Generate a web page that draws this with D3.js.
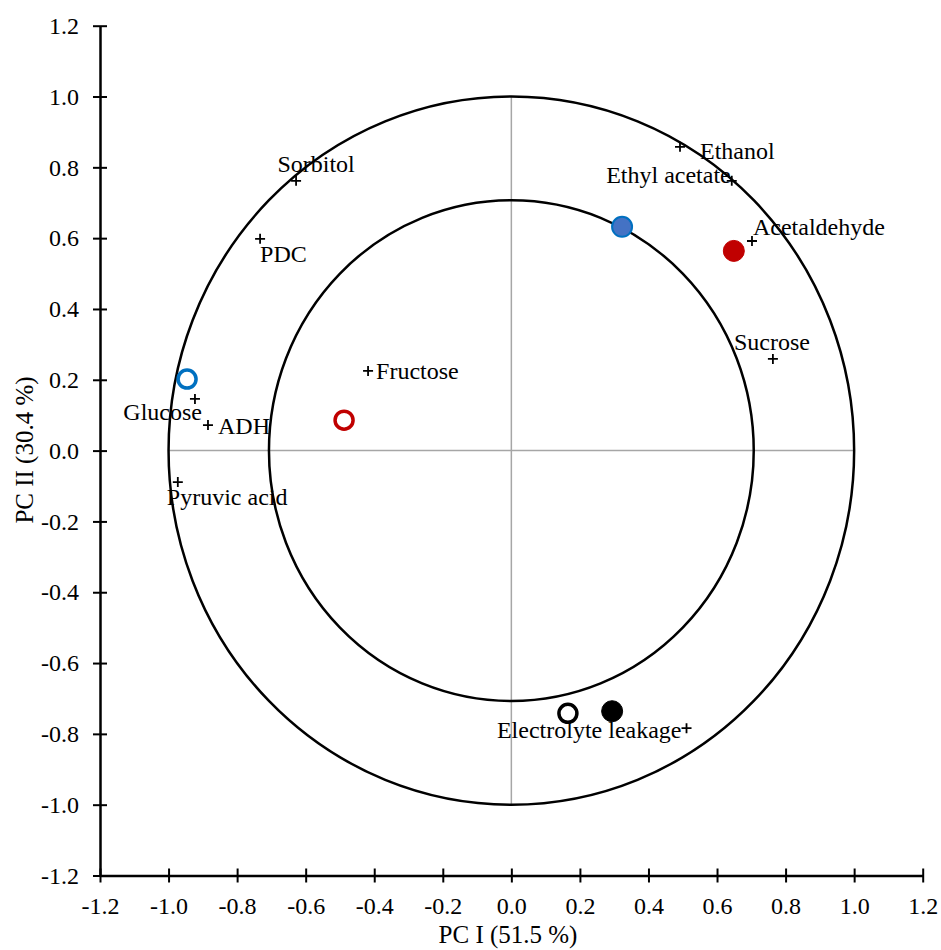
<!DOCTYPE html>
<html>
<head>
<meta charset="utf-8">
<script src="https://cdn.jsdelivr.net/npm/d3@7"></script>
<style>
  html, body { margin: 0; padding: 0; background: #fff; }
  svg text { font-family: "Liberation Serif", "Times New Roman", serif; fill: #000; }
</style>
</head>
<body>
<svg id="chart" width="941" height="950"></svg>
<script>
// ---- data ----
const loadingNames = ["Ethanol", "Ethyl acetate", "Acetaldehyde", "Sucrose", "Sorbitol", "PDC",
  "Fructose", "Glucose", "ADH", "Pyruvic acid", "Electrolyte leakage"];
const loadingPC1 = [0.492, 0.643, 0.702, 0.763, -0.628, -0.733, -0.418, -0.923, -0.885, -0.973, 0.511];
const loadingPC2 = [0.858, 0.762, 0.592, 0.259, 0.762, 0.598, 0.225, 0.146, 0.072, -0.089, -0.784];

const scoreGroups = ["blueFilled", "redFilled", "blueOpen", "redOpen", "blackOpen", "blackFilled"];
const scorePC1 = [0.323, 0.649, -0.946, -0.488, 0.165, 0.294];
const scorePC2 = [0.632, 0.564, 0.202, 0.086, -0.742, -0.736];

const tickValues = [-1.2, -1.0, -0.8, -0.6, -0.4, -0.2, 0.0, 0.2, 0.4, 0.6, 0.8, 1.0, 1.2];
const circleRadii = [1.0, Math.SQRT1_2];
const xTitle = "PC I (51.5 %)";
const yTitle = "PC II (30.4 %)";

// ---- styles / layout ----
const scoreStyle = {
  blueFilled:  { fill: "#4472C4", stroke: "#0070C0", sw: 2,   r: 10 },
  redFilled:   { fill: "#C00000", stroke: "#C00000", sw: 1,   r: 10.5 },
  blueOpen:    { fill: "#fff",    stroke: "#0070C0", sw: 3.5, r: 9 },
  redOpen:     { fill: "#fff",    stroke: "#C00000", sw: 3.5, r: 9 },
  blackOpen:   { fill: "#fff",    stroke: "#000",    sw: 3.5, r: 9 },
  blackFilled: { fill: "#000",    stroke: "#000",    sw: 1,   r: 10.5 }
};
const labelPlacement = {
  "Ethanol":             { dx: 20,  dy: 12, anchor: "start" },
  "Ethyl acetate":       { dx: -1,  dy: 2,  anchor: "end" },
  "Acetaldehyde":        { dx: 1,   dy: -6, anchor: "start" },
  "Sucrose":             { dx: -1,  dy: -9, anchor: "middle" },
  "Sorbitol":            { dx: 20,  dy: -9, anchor: "middle" },
  "PDC":                 { dx: 0,   dy: 23, anchor: "start" },
  "Fructose":            { dx: 8,   dy: 8,  anchor: "start" },
  "Glucose":             { dx: 7,   dy: 21, anchor: "end" },
  "ADH":                 { dx: 10,  dy: 9,  anchor: "start" },
  "Pyruvic acid":        { dx: -11, dy: 23, anchor: "start" },
  "Electrolyte leakage": { dx: -5,  dy: 10, anchor: "end" }
};

const svg = d3.select("#chart");
const x = d3.scaleLinear().domain([-1.2, 1.2]).range([100, 922.7]);
const y = d3.scaleLinear().domain([-1.2, 1.2]).range([875.5, 25.7]);
const fmt = d => d.toFixed(1);
const fontSize = 24;
const titleSize = 25;
const serif = '"Liberation Serif", "Times New Roman", serif';

// gray center cross (-1..1)
svg.append("line").attr("x1", x(-1)).attr("x2", x(1)).attr("y1", y(0)).attr("y2", y(0))
  .attr("stroke", "#A6A6A6").attr("stroke-width", 1.5);
svg.append("line").attr("x1", x(0)).attr("x2", x(0)).attr("y1", y(1)).attr("y2", y(-1))
  .attr("stroke", "#A6A6A6").attr("stroke-width", 1.5);

// correlation circles
svg.selectAll("ellipse.ring").data(circleRadii).enter().append("ellipse")
  .attr("class", "ring")
  .attr("cx", x(0)).attr("cy", y(0))
  .attr("rx", d => x(d) - x(0)).attr("ry", d => y(0) - y(d))
  .attr("fill", "none").attr("stroke", "#000").attr("stroke-width", 2.5);

// axes
const xAxis = d3.axisBottom(x).tickValues(tickValues).tickFormat(fmt).tickSizeInner(7).tickSizeOuter(0).tickPadding(14);
const yAxis = d3.axisLeft(y).tickValues(tickValues).tickFormat(fmt).tickSizeInner(7).tickSizeOuter(0).tickPadding(14);

const gx = svg.append("g").attr("transform", `translate(0,${y(-1.2)})`).call(xAxis);
const gy = svg.append("g").attr("transform", `translate(${x(-1.2)},0)`).call(yAxis);
[gx, gy].forEach(g => {
  g.attr("font-family", serif).attr("font-size", fontSize);
  g.select(".domain").attr("stroke", "#000").attr("stroke-width", 2.5);
  g.selectAll(".tick line").attr("stroke", "#000").attr("stroke-width", 2);
  g.selectAll(".tick text").attr("fill", "#000").attr("font-family", serif).attr("font-size", fontSize);
});
// ticks cross the axis
gx.selectAll(".tick line").attr("y1", -7).attr("y2", 7);
gy.selectAll(".tick line").attr("x1", -7).attr("x2", 7);

// axis titles
svg.append("text").attr("x", 508).attr("y", 943).attr("text-anchor", "middle")
  .attr("font-size", titleSize).text(xTitle);
svg.append("text").attr("transform", `translate(33,450) rotate(-90)`).attr("text-anchor", "middle")
  .attr("font-size", titleSize).text(yTitle);

// loadings: plus markers + labels
const loadings = loadingNames.map((n, i) => ({ name: n, pc1: loadingPC1[i], pc2: loadingPC2[i] }));
const lg = svg.append("g");
lg.selectAll("path.plus").data(loadings).enter().append("path")
  .attr("class", "plus")
  .attr("d", "M-5,0H5M0,-5V5")
  .attr("transform", d => `translate(${x(d.pc1)},${y(d.pc2)})`)
  .attr("stroke", "#000").attr("stroke-width", 1.8).attr("fill", "none");
lg.selectAll("text.lbl").data(loadings).enter().append("text")
  .attr("class", "lbl")
  .attr("x", d => x(d.pc1) + labelPlacement[d.name].dx)
  .attr("y", d => y(d.pc2) + labelPlacement[d.name].dy)
  .attr("text-anchor", d => labelPlacement[d.name].anchor)
  .attr("font-size", fontSize)
  .text(d => d.name);

// scores
const scores = scoreGroups.map((g, i) => ({ g, pc1: scorePC1[i], pc2: scorePC2[i] }));
svg.append("g").selectAll("circle").data(scores).enter().append("circle")
  .attr("cx", d => x(d.pc1)).attr("cy", d => y(d.pc2))
  .attr("r", d => scoreStyle[d.g].r)
  .attr("fill", d => scoreStyle[d.g].fill)
  .attr("fill-opacity", d => d.g.endsWith("Open") ? 0 : 1)
  .attr("stroke", d => scoreStyle[d.g].stroke)
  .attr("stroke-width", d => scoreStyle[d.g].sw);
</script>
</body>
</html>
